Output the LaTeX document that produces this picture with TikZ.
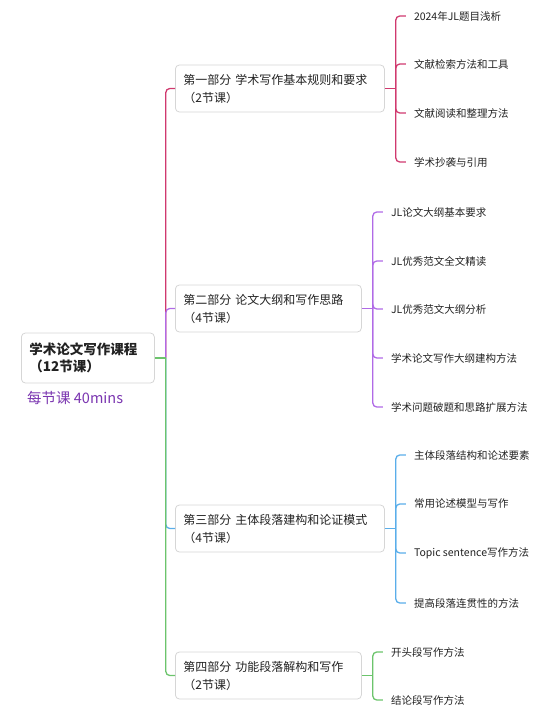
\documentclass[tikz,border=0pt]{standalone}
\usepackage{fontspec}
\setmainfont{Noto Sans CJK SC}
\definecolor{redc}{HTML}{D0396E}
\definecolor{purc}{HTML}{B06AE6}
\definecolor{bluc}{HTML}{5AAEEA}
\definecolor{grnc}{HTML}{6CC46C}
\definecolor{boxc}{HTML}{D6D6D6}
\definecolor{subc}{HTML}{7A35B0}
\definecolor{txtc}{HTML}{222222}
\tikzset{
  box/.style={draw=boxc,line width=0.8pt,fill=white,rounded corners=4pt,anchor=west,align=left,
    inner xsep=8pt,minimum height=47pt,text=txtc,font=\fontsize{12}{18}\selectfont},
  leaf/.style={anchor=west,inner xsep=8pt,inner ysep=2pt,text=txtc,font=\fontsize{10.5}{12}\selectfont},
  link/.style={line width=1.3pt,rounded corners=4pt},
}
\begin{document}
\begin{tikzpicture}[x=1pt,y=-1pt]
\useasboundingbox (0,0) rectangle (551,725);
% root and parts
\node[box,text width=117pt,minimum height=50pt,font=\fontsize{13.5}{17}\selectfont\bfseries] (root) at (21,358) {学术论文写作课程\\（12节课）};
\node[anchor=west,inner sep=0pt,text=subc,font=\fontsize{14.5}{16}\selectfont] (sub) at (27,398) {每节课 40mins};
\node[box,text width=193pt] (p1) at (175,88.5) {第一部分 学术写作基本规则和要求\\（2节课）};
\node[box,text width=170pt] (p2) at (175,308.5) {第二部分 论文大纲和写作思路\\（4节课）};
\node[box,text width=193pt] (p3) at (175,528.5) {第三部分 主体段落建构和论证模式\\（4节课）};
\node[box,text width=170pt] (p4) at (175,675.5) {第四部分 功能段落解构和写作\\（2节课）};
\coordinate (rj) at ([xshift=11pt]root.east);
\draw[link,redc] (rj) |- (p1.west);
\draw[link,purc] (rj) |- (p2.west);
\draw[link,bluc] (rj) |- (p3.west);
\draw[link,grnc] (rj) |- (p4.west);
\draw[link,grnc] (root.east) -- (rj);
% leaves
\foreach \p/\c in {1/redc,2/purc,3/bluc,4/grnc} {
  \coordinate (j\p) at ([xshift=11pt]p\p.east);
  \draw[link,\c] (p\p.east) -- (j\p);
}
\foreach \y/\t [count=\i] in {16/2024年JL题目浅析,64/文献检索方法和工具,113/文献阅读和整理方法,162/学术抄袭与引用} {
  \node[leaf] (a\i) at ([xshift=10pt]j1 |- 0,\y) {\t};
  \draw[link,redc] (j1) |- (a\i.west);
}
\foreach \y/\t [count=\i] in {212/JL论文大纲基本要求,261/JL优秀范文全文精读,309/JL优秀范文大纲分析,358/学术论文写作大纲建构方法,407/学术问题破题和思路扩展方法} {
  \node[leaf] (b\i) at ([xshift=10pt]j2 |- 0,\y) {\t};
  \draw[link,purc] (j2) |- (b\i.west);
}
\foreach \y/\t [count=\i] in {455/主体段落结构和论述要素,504/常用论述模型与写作,553/Topic sentence写作方法,603/提高段落连贯性的方法} {
  \node[leaf] (c\i) at ([xshift=10pt]j3 |- 0,\y) {\t};
  \draw[link,bluc] (j3) |- (c\i.west);
}
\foreach \y/\t [count=\i] in {652/开头段写作方法,700/结论段写作方法} {
  \node[leaf] (d\i) at ([xshift=10pt]j4 |- 0,\y) {\t};
  \draw[link,grnc] (j4) |- (d\i.west);
}
\end{tikzpicture}
\end{document}
